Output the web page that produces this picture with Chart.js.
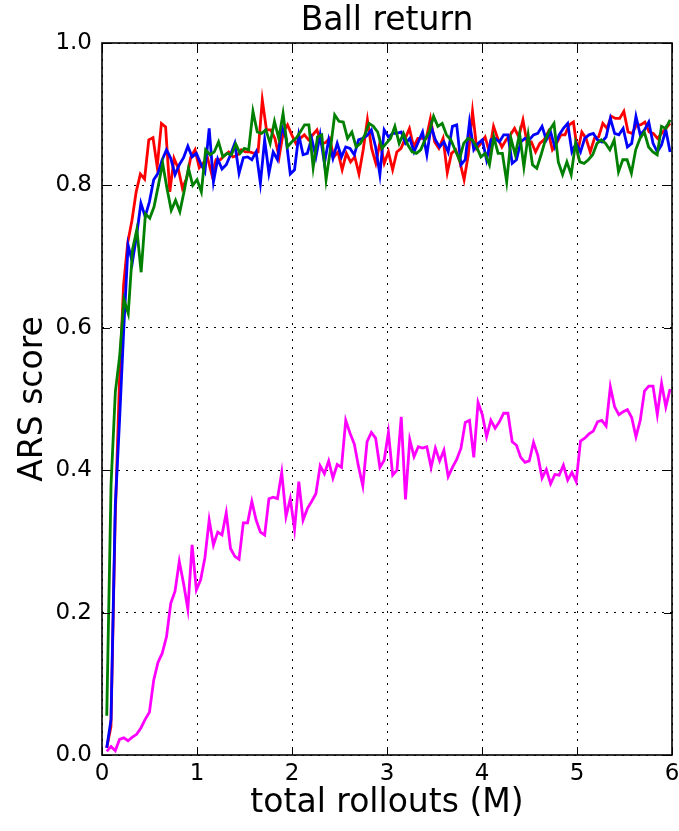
<!DOCTYPE html>
<html>
<head>
<meta charset="utf-8">
<script src="https://cdn.jsdelivr.net/npm/chart.js@4/dist/chart.umd.min.js"></script>
<style>
  html, body { margin: 0; padding: 0; background: #fff; }
  canvas { display: block; }
</style>
</head>
<body>
<canvas id="myChart" width="679" height="831"></canvas>
<script>
// x range where the curves run (M rollouts)
const xFirst = 0.05;
const xLast = 5.98;
const xTicks = [0, 1, 2, 3, 4, 5, 6];
const yTicks = [0.0, 0.2, 0.4, 0.6, 0.8, 1.0];
const titleText = 'Ball return';

const redScores = [0.01, 0.04, 0.33, 0.52, 0.66, 0.72, 0.751, 0.791, 0.816, 0.809, 0.864, 0.867, 0.826, 0.887, 0.882, 0.791, 0.838, 0.824, 0.796, 0.81, 0.84, 0.85, 0.825, 0.832, 0.838, 0.815, 0.836, 0.836, 0.842, 0.847, 0.84, 0.842, 0.85, 0.847, 0.847, 0.845, 0.847, 0.92, 0.878, 0.878, 0.866, 0.84, 0.875, 0.885, 0.871, 0.859, 0.866, 0.871,
  0.864, 0.871, 0.878, 0.859, 0.86, 0.866, 0.84, 0.847, 0.822, 0.845, 0.833, 0.84, 0.816, 0.85, 0.892, 0.852, 0.831, 0.861, 0.831, 0.847, 0.822, 0.847, 0.852, 0.866, 0.88, 0.854, 0.866, 0.866, 0.866, 0.894, 0.861, 0.852, 0.866, 0.818, 0.845, 0.85, 0.833, 0.808, 0.843, 0.904, 0.852, 0.859, 0.868, 0.847, 0.883,
  0.866, 0.854, 0.864, 0.871, 0.88, 0.868, 0.892, 0.859, 0.861, 0.847, 0.859, 0.864, 0.875, 0.85, 0.859, 0.871, 0.871, 0.885, 0.889, 0.847, 0.875, 0.866, 0.847, 0.866, 0.868, 0.887, 0.88, 0.897, 0.894, 0.894, 0.904, 0.875, 0.873, 0.885, 0.885, 0.889, 0.875, 0.873, 0.866, 0.873, 0.88, 0.887];

const blueScores = [0.01, 0.05, 0.35, 0.47, 0.6, 0.716, 0.692, 0.73, 0.775, 0.756, 0.777, 0.808, 0.817, 0.836, 0.85, 0.838, 0.815, 0.829, 0.839, 0.855, 0.84, 0.845, 0.831, 0.819, 0.88, 0.805, 0.837, 0.823, 0.829, 0.843, 0.859, 0.817, 0.839, 0.84, 0.836, 0.847, 0.803, 0.864, 0.817, 0.847, 0.836, 0.883, 0.866, 0.816, 0.822, 0.871,
  0.843, 0.845, 0.866, 0.84, 0.871, 0.831, 0.864, 0.838, 0.859, 0.84, 0.854, 0.852, 0.843, 0.864, 0.866, 0.87, 0.878, 0.854, 0.815, 0.878, 0.868, 0.873, 0.873, 0.875, 0.859, 0.866, 0.847, 0.861, 0.875, 0.843, 0.883, 0.864, 0.854, 0.861, 0.847, 0.883, 0.885, 0.829, 0.836, 0.889, 0.85, 0.859, 0.864, 0.836, 0.864,
  0.866, 0.861, 0.871, 0.871, 0.831, 0.836, 0.861, 0.866, 0.864, 0.871, 0.873, 0.883, 0.864, 0.875, 0.854, 0.871, 0.88, 0.887, 0.847, 0.859, 0.847, 0.866, 0.871, 0.873, 0.864, 0.861, 0.868, 0.894, 0.873, 0.871, 0.88, 0.854, 0.859, 0.897, 0.871, 0.878, 0.889, 0.859, 0.847, 0.857, 0.878, 0.847];

const greenScores = [0.055, 0.38, 0.51, 0.56, 0.64, 0.62, 0.71, 0.738, 0.678, 0.76, 0.754, 0.77, 0.80, 0.831, 0.796, 0.765, 0.779, 0.763, 0.792, 0.824, 0.8, 0.808, 0.791, 0.85, 0.843, 0.847, 0.861, 0.84, 0.845, 0.843, 0.858, 0.845, 0.852, 0.85, 0.904, 0.875, 0.873, 0.878, 0.859, 0.89, 0.866, 0.901, 0.854, 0.861, 0.866,
  0.875, 0.885, 0.885, 0.825, 0.868, 0.871, 0.808, 0.85, 0.899, 0.89, 0.889, 0.866, 0.875, 0.854, 0.859, 0.871, 0.887, 0.883, 0.875, 0.852, 0.859, 0.866, 0.883, 0.859, 0.873, 0.857, 0.847, 0.845, 0.85, 0.864, 0.875, 0.897, 0.883, 0.887, 0.871, 0.864, 0.85, 0.836, 0.859, 0.866, 0.864, 0.854, 0.84, 0.845, 0.829,
  0.868, 0.845, 0.845, 0.805, 0.866, 0.843, 0.873, 0.826, 0.871, 0.829, 0.824, 0.843, 0.864, 0.878, 0.887, 0.833, 0.815, 0.833, 0.815, 0.859, 0.833, 0.831, 0.836, 0.843, 0.859, 0.864, 0.859, 0.85, 0.864, 0.819, 0.836, 0.836, 0.817, 0.85, 0.866, 0.875, 0.854, 0.847, 0.843, 0.883, 0.88, 0.892];

const magentaScores = [0.005, 0.012, 0.006, 0.022, 0.024, 0.02, 0.025, 0.029, 0.038, 0.05, 0.06, 0.105, 0.13, 0.143, 0.166, 0.213, 0.23, 0.272, 0.241, 0.205, 0.295, 0.232, 0.246, 0.277, 0.33, 0.295, 0.313, 0.309, 0.34, 0.29, 0.279, 0.275, 0.326, 0.326, 0.356, 0.33, 0.313, 0.309, 0.36, 0.362, 0.36, 0.397, 0.335, 0.36, 0.317, 0.384, 0.33, 0.346, 0.356, 0.367,
  0.406, 0.395, 0.413, 0.389, 0.408, 0.404, 0.47, 0.452, 0.437, 0.405, 0.378, 0.44, 0.453, 0.445, 0.404, 0.414, 0.453, 0.393, 0.4, 0.475, 0.359, 0.443, 0.419, 0.433, 0.431, 0.433, 0.404, 0.431, 0.413, 0.428, 0.391, 0.404, 0.415, 0.431, 0.467, 0.47, 0.418, 0.495, 0.478, 0.447, 0.47, 0.459, 0.468, 0.48, 0.48,
  0.44, 0.435, 0.418, 0.411, 0.413, 0.439, 0.421, 0.389, 0.401, 0.381, 0.394, 0.393, 0.407, 0.386, 0.397, 0.384, 0.441, 0.445, 0.451, 0.455, 0.468, 0.47, 0.462, 0.517, 0.489, 0.478, 0.482, 0.485, 0.474, 0.447, 0.47, 0.511, 0.518, 0.518, 0.478, 0.522, 0.489, 0.514];

// evaluations are evenly spaced between xFirst and xLast
function toPoints(scores) {
    var step = (xLast - xFirst) / (scores.length - 1);
    return scores.map(function (v, i) { return { x: xFirst + i * step, y: v }; });
}

const fam = "'DejaVu Sans', 'Liberation Sans', sans-serif";

// matplotlib style box with inward ticks on all four sides, title centred over the axes
const frameTicks = {
    id: 'frameTicks',
    afterDraw(chart) {
        var ctx = chart.ctx;
        var a = chart.chartArea;
        var xs = chart.scales.x, ys = chart.scales.y;
        var len = 8;
        ctx.save();
        ctx.strokeStyle = '#000';
        ctx.lineWidth = 1;
        ctx.beginPath();
        xTicks.forEach(function (t) {
            var px = Math.round(xs.getPixelForValue(t)) + 0.5;
            ctx.moveTo(px, a.bottom); ctx.lineTo(px, a.bottom - len);
            ctx.moveTo(px, a.top); ctx.lineTo(px, a.top + len);
        });
        yTicks.forEach(function (t) {
            var py = Math.round(ys.getPixelForValue(t)) + 0.5;
            ctx.moveTo(a.left, py); ctx.lineTo(a.left + len, py);
            ctx.moveTo(a.right, py); ctx.lineTo(a.right - len, py);
        });
        ctx.stroke();
        ctx.lineWidth = 1.6;
        ctx.strokeRect(a.left, a.top, a.right - a.left, a.bottom - a.top);

        ctx.fillStyle = '#000';
        ctx.font = '33px ' + fam;
        ctx.textAlign = 'center';
        ctx.textBaseline = 'middle';
        ctx.fillText(titleText, (a.left + a.right) / 2, 21);
        ctx.restore();
    }
};

var ctx = document.getElementById('myChart').getContext('2d');
var chart = new Chart(ctx, {
    type: 'line',
    data: {
        datasets: [
            { label: 'green', data: toPoints(greenScores), borderColor: '#008000', order: 1 },
            { label: 'blue', data: toPoints(blueScores), borderColor: '#0000ff', order: 2 },
            { label: 'red', data: toPoints(redScores), borderColor: '#ff0000', order: 3 },
            { label: 'magenta', data: toPoints(magentaScores), borderColor: '#ff00ff', order: 0 }
        ]
    },
    options: {
        responsive: false,
        animation: false,
        datasets: { line: { borderWidth: 2.8, pointRadius: 0, tension: 0, fill: false } },
        layout: { padding: { left: 0, right: 7, top: 43, bottom: 0 } },
        plugins: {
            legend: { display: false },
            tooltip: { enabled: false },
            title: { display: false }
        },
        scales: {
            x: {
                type: 'linear',
                min: 0, max: 6,
                afterBuildTicks: function (s) { s.ticks = xTicks.map(function (v) { return { value: v }; }); },
                ticks: { color: '#000', font: { family: fam, size: 23 }, padding: 5, maxRotation: 0 },
                grid: { color: '#000', lineWidth: 1, drawTicks: false },
                border: { display: false, dash: [2, 6] },
                title: { display: true, text: 'total rollouts (M)', color: '#000', font: { family: fam, size: 33 }, padding: { top: 0, bottom: 8 } },
                afterFit: function (s) { s.height = 76; s.paddingLeft = 0; s.paddingRight = 0; }
            },
            y: {
                min: 0, max: 1,
                afterBuildTicks: function (s) { s.ticks = yTicks.map(function (v) { return { value: v }; }); },
                ticks: { color: '#000', font: { family: fam, size: 23 }, padding: 10, callback: function (v) { return v.toFixed(1); } },
                grid: { color: '#000', lineWidth: 1, drawTicks: false },
                border: { display: false, dash: [2, 6] },
                title: { display: true, text: 'ARS score', color: '#000', font: { family: fam, size: 33 }, padding: { top: 14, bottom: 0 } },
                afterFit: function (s) { s.width = 102; s.paddingTop = 0; s.paddingBottom = 0; }
            }
        }
    },
    plugins: [frameTicks]
});
</script>
</body>
</html>
